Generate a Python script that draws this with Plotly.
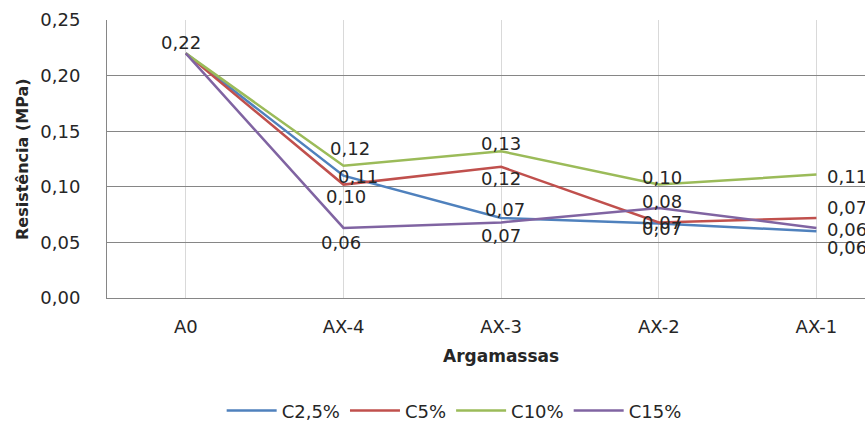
import plotly.graph_objects as go

categories = ["A0", "AX-4", "AX-3", "AX-2", "AX-1"]
series_names = ["C2,5%", "C5%", "C10%", "C15%"]
c25 = [0.22, 0.110, 0.072, 0.067, 0.060]
c5 = [0.22, 0.102, 0.118, 0.068, 0.072]
c10 = [0.22, 0.119, 0.132, 0.102, 0.111]
c15 = [0.22, 0.063, 0.068, 0.081, 0.063]
y_ticks = [0, 0.05, 0.10, 0.15, 0.20, 0.25]

series_values = [c25, c5, c10, c15]
colors = ["#4F81BD", "#C0504D", "#9BBB59", "#8064A2"]
# label offsets (dx, dy) in px, dy positive = downwards; None = label hidden (overlaps)
label_offsets = [
    [(-5, -11), (15, 1), (4, -8), (3, 5), (31, 16)],
    [None, (3, 12), (0, 12), (3, 0), (31, -10)],
    [None, (7, -17), (0, -8), (3, -7), (31, 2)],
    [None, (-2, 15), (0, 13), (3, -6), (31, 2)],
]

FONT = "DejaVu Sans"
TXT = "#262626"

fig = go.Figure()
annotations = []
for name, vals, col, offs in zip(series_names, series_values, colors, label_offsets):
    fig.add_trace(go.Scatter(
        x=list(range(len(categories))), y=vals, mode="lines", name=name,
        line=dict(color=col, width=2.5), cliponaxis=False,
    ))
    for i, v in enumerate(vals):
        if offs[i] is None:
            continue
        dx, dy = offs[i]
        annotations.append(dict(
            x=i, y=v, xref="x", yref="y", text=f"{v:.2f}".replace(".", ","),
            showarrow=False, xshift=dx, yshift=-dy, xanchor="center", yanchor="middle",
            font=dict(family=FONT, size=18, color=TXT),
        ))

annotations.append(dict(
    x=2, y=0, xref="x", yref="paper", text="<b>Argamassas</b>", showarrow=False,
    yshift=-58, xanchor="center", yanchor="middle",
    font=dict(family=FONT, size=17, color=TXT),
))
annotations.append(dict(
    x=0, y=0.5, xref="paper", yref="paper", text="<b>Resistência (MPa)</b>", showarrow=False,
    xshift=-85, textangle=-90, xanchor="center", yanchor="middle",
    font=dict(family=FONT, size=16, color=TXT),
))

fig.update_layout(
    width=865, height=421,
    margin=dict(l=107, r=0, t=20, b=123, autoexpand=False),
    paper_bgcolor="white", plot_bgcolor="white",
    separators=",.",
    annotations=annotations,
    showlegend=True,
    legend=dict(orientation="h", x=0.458, xanchor="center", y=-0.406, yanchor="middle",
                font=dict(family=FONT, size=18, color=TXT), itemwidth=50),
    xaxis=dict(
        range=[-0.5, 4.308], tickmode="array", tickvals=list(range(len(categories))),
        ticktext=categories, showgrid=True, gridcolor="#D9D9D9", gridwidth=1,
        showline=True, linecolor="#868686", linewidth=1, zeroline=False,
        ticks="", ticklabelstandoff=12, automargin=False,
        tickfont=dict(family=FONT, size=18, color=TXT),
    ),
    yaxis=dict(
        range=[0, 0.25], tickmode="array", tickvals=y_ticks, tickformat=".2f",
        showgrid=True, gridcolor="#868686", gridwidth=1,
        showline=True, linecolor="#868686", linewidth=1, zeroline=False,
        ticks="", ticklabelstandoff=22, automargin=False,
        tickfont=dict(family=FONT, size=18, color=TXT),
    ),
)

fig.write_html(
    "out.html",
    config={"displayModeBar": False},
    post_script="document.body.style.margin='0';document.body.style.padding='0';"
                "document.body.style.overflow='hidden';",
)
